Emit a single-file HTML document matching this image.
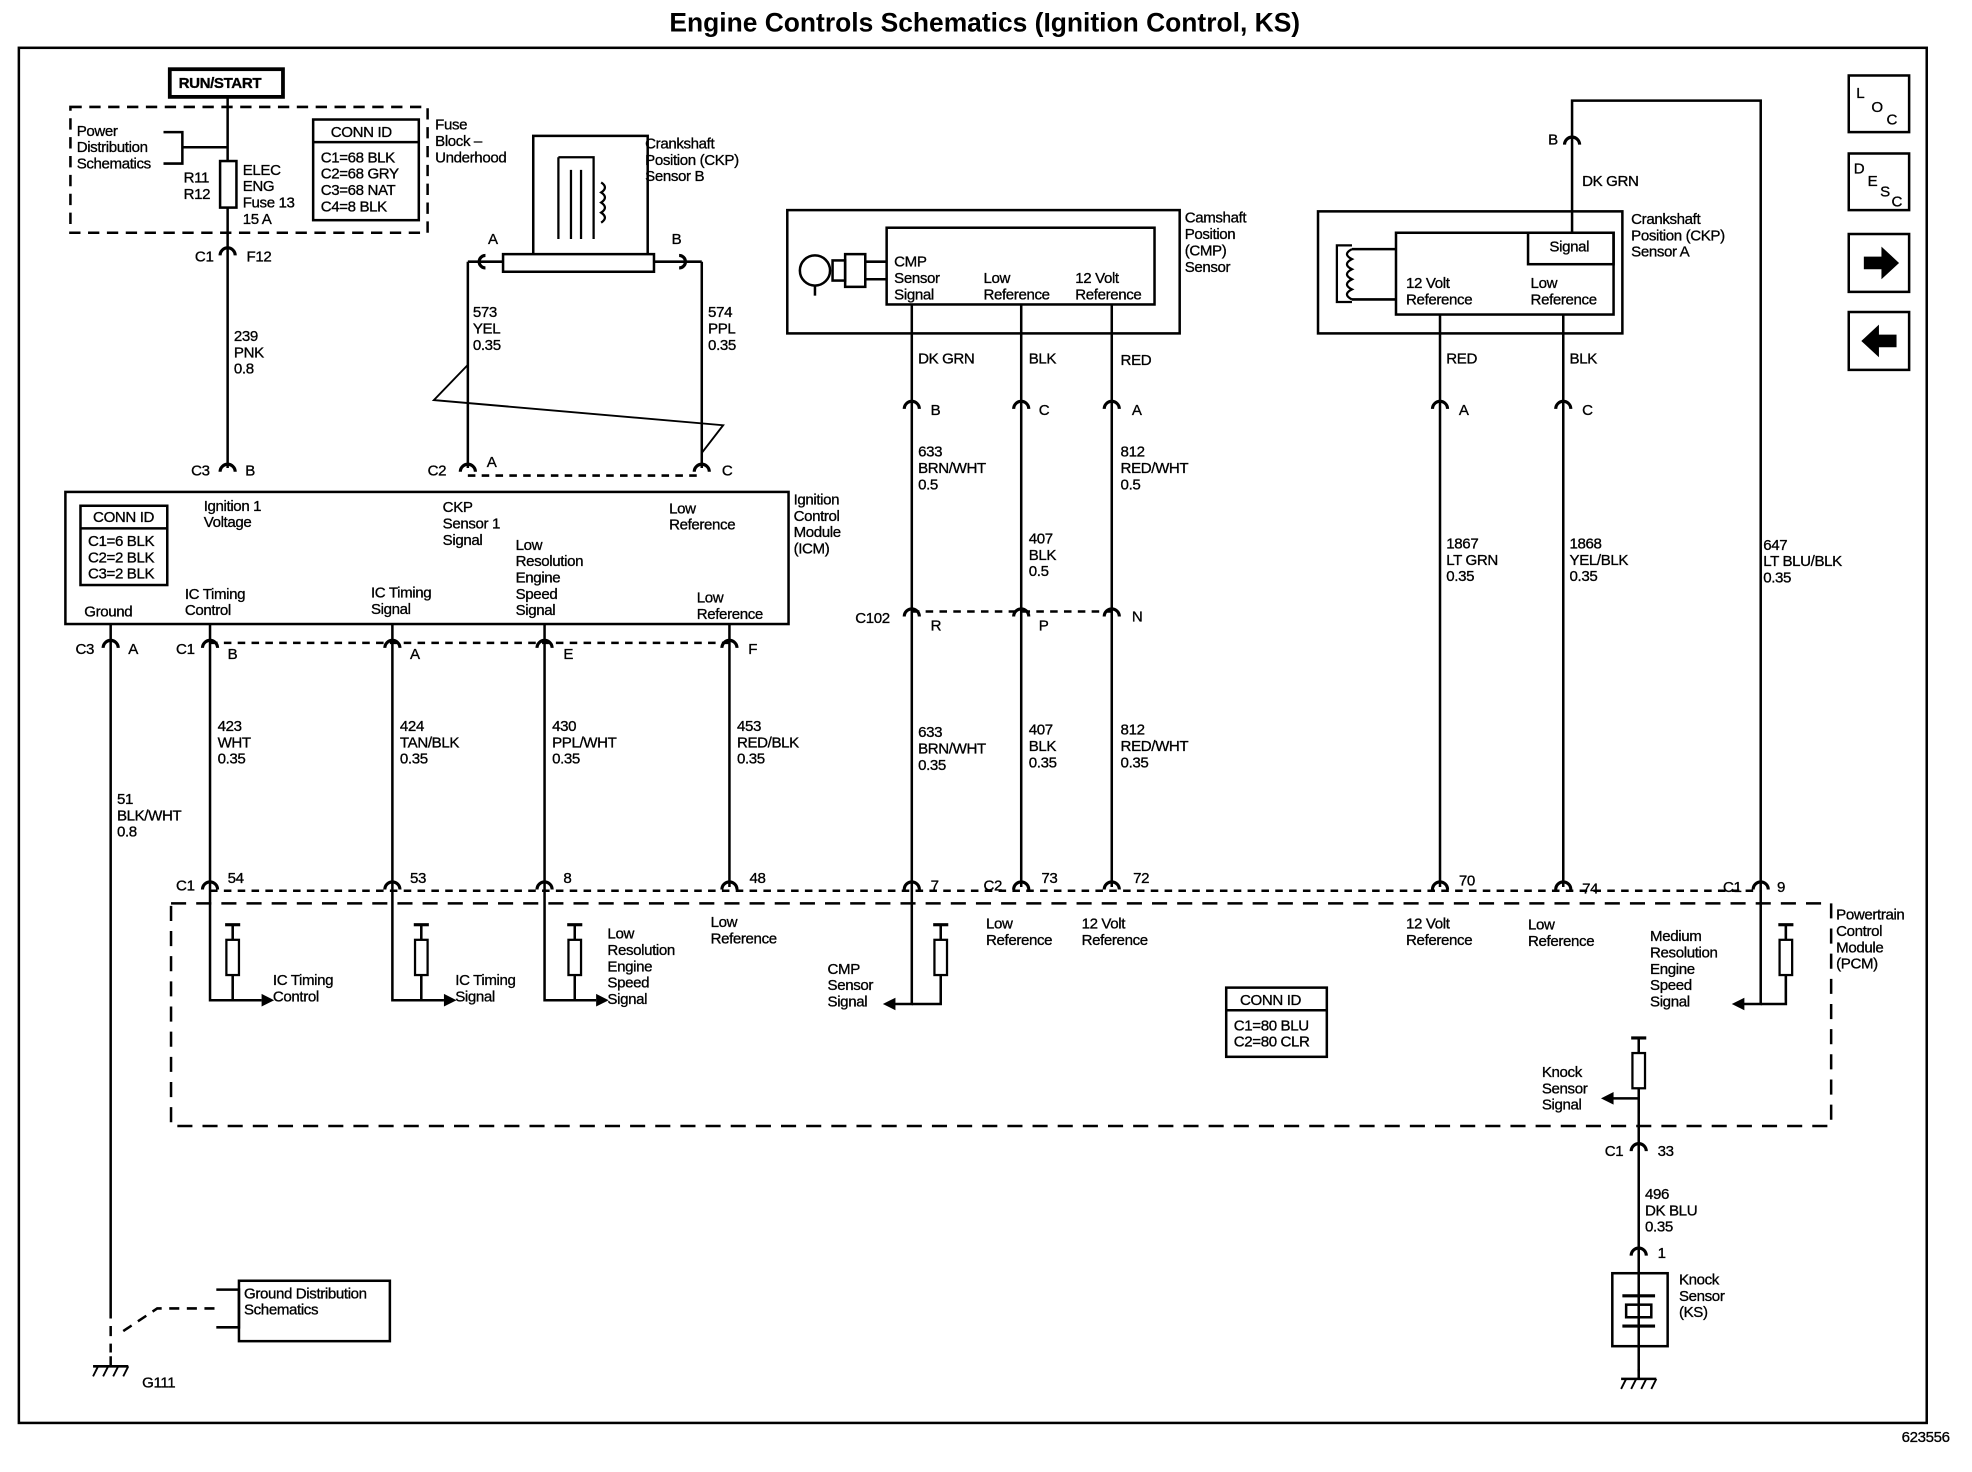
<!DOCTYPE html>
<html><head><meta charset="utf-8"><style>
html,body{margin:0;padding:0;background:#fff;}
svg{display:block}
text{font-family:"Liberation Sans",Arial,sans-serif;font-size:12px;fill:#000;letter-spacing:-0.3px;stroke:#000;stroke-width:0.25}
.t{font-weight:bold;font-size:21px;letter-spacing:0;stroke-width:0}
.b{font-weight:bold}
</style></head><body>
<svg width="1972" height="1472" viewBox="0 0 1568 1170" preserveAspectRatio="none" xmlns="http://www.w3.org/2000/svg">
<defs>
<path id="c" d="M-6,5 A6,6 0 0 1 6,5" fill="none" stroke="#000" stroke-width="2.5"/>
<g id="gnd"><line x1="0" y1="0" x2="0" y2="8" stroke="#000" stroke-width="2"/><line x1="-14" y1="8" x2="14" y2="8" stroke="#000" stroke-width="2"/><line x1="-10" y1="8" x2="-14" y2="16" stroke="#000" stroke-width="1.5"/><line x1="-2" y1="8" x2="-6" y2="16" stroke="#000" stroke-width="1.5"/><line x1="6" y1="8" x2="2" y2="16" stroke="#000" stroke-width="1.5"/><line x1="14" y1="8" x2="10" y2="16" stroke="#000" stroke-width="1.5"/></g>
<g id="res"><line x1="-6" y1="0" x2="6" y2="0" stroke="#000" stroke-width="2.5"/><line x1="0" y1="0" x2="0" y2="60" stroke="#000" stroke-width="1.8"/><rect x="-5" y="12" width="10" height="28" fill="#fff" stroke="#000" stroke-width="1.8"/></g>
</defs>
<rect width="1568" height="1170" fill="#fff"/>
<text x="783" y="25" class="t" text-anchor="middle">Engine Controls Schematics (Ignition Control, KS)</text>
<rect x="15" y="38" width="1517" height="1093" fill="none" stroke="#000" stroke-width="2"/>
<text x="1512" y="1146" font-size="10">623556</text>

<g fill="none" stroke="#000" stroke-width="2">
<rect x="1470" y="60" width="48" height="45"/><rect x="1470" y="122" width="48" height="45"/>
<rect x="1470" y="186" width="48" height="46"/><rect x="1470" y="248" width="48" height="46"/>
</g>
<text x="1476" y="78" font-size="11">L</text><text x="1488" y="89" font-size="11">O</text><text x="1500" y="99" font-size="11">C</text>
<text x="1474" y="138" font-size="11">D</text><text x="1485" y="148" font-size="11">E</text><text x="1495" y="156" font-size="11">S</text><text x="1504" y="164" font-size="11">C</text>
<path d="M1482,204 h14 v-8 l14,13 l-14,13 v-8 h-14z" fill="#000"/>
<path d="M1508,266 h-14 v-8 l-14,13 l14,13 v-8 h14z" fill="#000"/>

<g stroke="#000" stroke-width="2" fill="none">
<rect x="135" y="55" width="90" height="22" stroke-width="3"/>
<rect x="56" y="85" width="284" height="100" stroke-dasharray="9,6"/>
<line x1="181" y1="77" x2="181" y2="372"/>
<rect x="175" y="128" width="13" height="37" fill="#fff"/>
<path d="M130,105 h15 v25 h-15 M145,117 h36"/>
<rect x="249" y="95" width="84" height="80"/><line x1="249" y1="113" x2="333" y2="113"/>
<rect x="424" y="108" width="91" height="100"/>
<path d="M444,125 h28 v65 M444,125 v65 M454,135 v55 M462,135 v55" stroke-width="1.8"/>
<path d="M478,145 q6,4 0,8 q6,4 0,8 q6,4 0,8 q6,4 0,8" stroke-width="1.8"/>
<rect x="400" y="202" width="120" height="14" fill="#fff"/>
<path d="M386,203 A5,5 0 0 0 386,213" stroke-width="2.5"/><line x1="372" y1="208" x2="400" y2="208"/>
<path d="M540,203 A5,5 0 0 1 540,213" stroke-width="2.5"/><line x1="520" y1="208" x2="558" y2="208"/>
<path d="M372,208 V372 M558,208 V372"/>
<path d="M372,290 L345,318 L575,338 L558,360" stroke-width="1.5"/>
<line x1="372" y1="378" x2="558" y2="378" stroke-dasharray="6,5"/>
<rect x="52" y="391" width="575" height="105"/>
<rect x="64" y="402" width="69" height="63"/><line x1="64" y1="420" x2="133" y2="420"/>
<line x1="167" y1="511" x2="580" y2="511" stroke-dasharray="6,5"/>
<path d="M88,496 V1040 M167,496 V705 M312,496 V705 M433,496 V705 M580,496 V705"/>
<path d="M88,1040 V1075 M98,1058 L125,1040 H172" stroke-dasharray="8,6"/>
<path d="M172,1025 h18 v30 h-18"/>
<rect x="190" y="1018" width="120" height="48"/>
<rect x="626" y="167" width="312" height="98"/>
<rect x="705" y="181" width="213" height="61"/>
<circle cx="648" cy="215" r="12"/>
<rect x="662" y="207" width="10" height="16"/><rect x="672" y="202" width="16" height="26"/><path d="M688,208 h17 M688,222 h17"/>
<path d="M648,227 v8" />
<path d="M725,242 V705 M812,242 V705 M884,242 V705"/>
<line x1="725" y1="486" x2="884" y2="486" stroke-dasharray="6,5"/>
<rect x="1048" y="168" width="242" height="97"/>
<rect x="1110" y="185" width="173" height="65"/>
<rect x="1215" y="185" width="68" height="25"/>
<path d="M1075,195 h-12 v45 h12 M1075,198 q-8,4 0,8 q-8,4 0,8 q-8,4 0,8 q-8,4 0,8 q-8,4 0,8" stroke-width="1.8"/>
<path d="M1075,198 h35 M1075,238 h35"/>
<path d="M1250,185 V113 M1250,113 V80 H1400 V705"/>
<path d="M1145,250 V705 M1243,250 V705"/>
<line x1="167" y1="708" x2="1400" y2="708" stroke-dasharray="6,5"/>
<rect x="136" y="718" width="1320" height="177" stroke-dasharray="12,8"/>
<path d="M167,705 V795 H208 M312,705 V795 H353 M433,705 V795 H474 M725,705 V798 H710 M1400,705 V798 H1385"/>
<path d="M185,735 v60 M335,735 v60 M457,735 v60 M748,735 v63 H725 M1420,735 v63 H1400"/>
<rect x="975" y="785" width="80" height="55"/><line x1="975" y1="803" x2="1055" y2="803"/>
<path d="M1303,825 V1090 M1303,873 H1282"/>
<rect x="1282" y="1012" width="44" height="58"/>
<path d="M1290,1030 h26 M1290,1054 h26" stroke-width="2.5"/><rect x="1293" y="1037" width="20" height="10"/>
</g>
<g fill="#000">
<path d="M208,790 l10,5 l-10,5z"/><path d="M353,790 l10,5 l-10,5z"/><path d="M474,790 l10,5 l-10,5z"/>
<path d="M712,793 l-10,5 l10,5z"/><path d="M1387,793 l-10,5 l10,5z"/><path d="M1283,868 l-10,5 l10,5z"/>
</g>
<use href="#res" x="185" y="735"/><use href="#res" x="335" y="735"/><use href="#res" x="457" y="735"/>
<use href="#res" x="748" y="735"/><use href="#res" x="1420" y="735"/><use href="#res" x="1303" y="825"/>
<use href="#gnd" x="88" y="1078"/><use href="#gnd" x="1303" y="1088"/>

<use href="#c" x="181" y="198"/><use href="#c" x="181" y="370"/><use href="#c" x="372" y="370"/><use href="#c" x="558" y="370"/>
<use href="#c" x="88" y="510"/><use href="#c" x="167" y="510"/><use href="#c" x="312" y="510"/><use href="#c" x="433" y="510"/><use href="#c" x="580" y="510"/>
<use href="#c" x="725" y="320"/><use href="#c" x="812" y="320"/><use href="#c" x="884" y="320"/>
<use href="#c" x="725" y="485"/><use href="#c" x="812" y="485"/><use href="#c" x="884" y="485"/>
<use href="#c" x="1145" y="320"/><use href="#c" x="1243" y="320"/><use href="#c" x="1250" y="110"/>
<use href="#c" x="167" y="702"/><use href="#c" x="312" y="702"/><use href="#c" x="433" y="702"/><use href="#c" x="580" y="702"/><use href="#c" x="725" y="702"/><use href="#c" x="812" y="702"/><use href="#c" x="884" y="702"/><use href="#c" x="1145" y="702"/><use href="#c" x="1243" y="702"/><use href="#c" x="1400" y="702"/>
<use href="#c" x="1303" y="910"/><use href="#c" x="1303" y="993"/>

<text x="142" y="70" class="b">RUN/START</text>
<text x="61" y="108">Power</text><text x="61" y="121">Distribution</text><text x="61" y="134">Schematics</text>
<text x="146" y="145">R11</text><text x="146" y="158">R12</text>
<text x="193" y="139">ELEC</text><text x="193" y="152">ENG</text><text x="193" y="165">Fuse 13</text><text x="193" y="178">15 A</text>
<text x="263" y="109">CONN ID</text><text x="255" y="129">C1=68 BLK</text><text x="255" y="142">C2=68 GRY</text><text x="255" y="155">C3=68 NAT</text><text x="255" y="168">C4=8 BLK</text>
<text x="346" y="103">Fuse</text><text x="346" y="116">Block –</text><text x="346" y="129">Underhood</text>
<text x="155" y="208">C1</text><text x="196" y="208">F12</text>
<text x="186" y="271">239</text><text x="186" y="284">PNK</text><text x="186" y="297">0.8</text>
<text x="152" y="378">C3</text><text x="195" y="378">B</text>
<text x="513" y="118">Crankshaft</text><text x="513" y="131">Position (CKP)</text><text x="513" y="144">Sensor B</text>
<text x="388" y="194">A</text><text x="534" y="194">B</text>
<text x="376" y="252">573</text><text x="376" y="265">YEL</text><text x="376" y="278">0.35</text>
<text x="563" y="252">574</text><text x="563" y="265">PPL</text><text x="563" y="278">0.35</text>
<text x="340" y="378">C2</text><text x="387" y="371">A</text><text x="574" y="378">C</text>
<text x="74" y="415">CONN ID</text><text x="70" y="434">C1=6 BLK</text><text x="70" y="447">C2=2 BLK</text><text x="70" y="460">C3=2 BLK</text>
<text x="162" y="406">Ignition 1</text><text x="162" y="419">Voltage</text>
<text x="352" y="407">CKP</text><text x="352" y="420">Sensor 1</text><text x="352" y="433">Signal</text>
<text x="410" y="437">Low</text><text x="410" y="450">Resolution</text><text x="410" y="463">Engine</text><text x="410" y="476">Speed</text><text x="410" y="489">Signal</text>
<text x="532" y="408">Low</text><text x="532" y="421">Reference</text>
<text x="147" y="476">IC Timing</text><text x="147" y="489">Control</text>
<text x="295" y="475">IC Timing</text><text x="295" y="488">Signal</text>
<text x="554" y="479">Low</text><text x="554" y="492">Reference</text>
<text x="67" y="490">Ground</text>
<text x="631" y="401">Ignition</text><text x="631" y="414">Control</text><text x="631" y="427">Module</text><text x="631" y="440">(ICM)</text>
<text x="60" y="520">C3</text><text x="102" y="520">A</text><text x="140" y="520">C1</text><text x="181" y="524">B</text><text x="326" y="524">A</text><text x="448" y="524">E</text><text x="595" y="520">F</text>
<text x="173" y="581">423</text><text x="173" y="594">WHT</text><text x="173" y="607">0.35</text>
<text x="318" y="581">424</text><text x="318" y="594">TAN/BLK</text><text x="318" y="607">0.35</text>
<text x="439" y="581">430</text><text x="439" y="594">PPL/WHT</text><text x="439" y="607">0.35</text>
<text x="586" y="581">453</text><text x="586" y="594">RED/BLK</text><text x="586" y="607">0.35</text>
<text x="93" y="639">51</text><text x="93" y="652">BLK/WHT</text><text x="93" y="665">0.8</text>
<text x="194" y="1032">Ground Distribution</text><text x="194" y="1045">Schematics</text>
<text x="113" y="1103">G111</text>
<text x="711" y="212">CMP</text><text x="711" y="225">Sensor</text><text x="711" y="238">Signal</text>
<text x="782" y="225">Low</text><text x="782" y="238">Reference</text>
<text x="855" y="225">12 Volt</text><text x="855" y="238">Reference</text>
<text x="942" y="177">Camshaft</text><text x="942" y="190">Position</text><text x="942" y="203">(CMP)</text><text x="942" y="216">Sensor</text>
<text x="730" y="289">DK GRN</text><text x="818" y="289">BLK</text><text x="891" y="290">RED</text>
<text x="740" y="330">B</text><text x="826" y="330">C</text><text x="900" y="330">A</text>
<text x="730" y="363">633</text><text x="730" y="376">BRN/WHT</text><text x="730" y="389">0.5</text>
<text x="818" y="432">407</text><text x="818" y="445">BLK</text><text x="818" y="458">0.5</text>
<text x="891" y="363">812</text><text x="891" y="376">RED/WHT</text><text x="891" y="389">0.5</text>
<text x="680" y="495">C102</text><text x="740" y="501">R</text><text x="826" y="501">P</text><text x="900" y="494">N</text>
<text x="730" y="586">633</text><text x="730" y="599">BRN/WHT</text><text x="730" y="612">0.35</text>
<text x="818" y="584">407</text><text x="818" y="597">BLK</text><text x="818" y="610">0.35</text>
<text x="891" y="584">812</text><text x="891" y="597">RED/WHT</text><text x="891" y="610">0.35</text>
<text x="1232" y="200">Signal</text>
<text x="1118" y="229">12 Volt</text><text x="1118" y="242">Reference</text>
<text x="1217" y="229">Low</text><text x="1217" y="242">Reference</text>
<text x="1297" y="178">Crankshaft</text><text x="1297" y="191">Position (CKP)</text><text x="1297" y="204">Sensor A</text>
<text x="1231" y="115">B</text><text x="1258" y="148">DK GRN</text>
<text x="1150" y="289">RED</text><text x="1248" y="289">BLK</text><text x="1160" y="330">A</text><text x="1258" y="330">C</text>
<text x="1150" y="436">1867</text><text x="1150" y="449">LT GRN</text><text x="1150" y="462">0.35</text>
<text x="1248" y="436">1868</text><text x="1248" y="449">YEL/BLK</text><text x="1248" y="462">0.35</text>
<text x="1402" y="437">647</text><text x="1402" y="450">LT BLU/BLK</text><text x="1402" y="463">0.35</text>
<text x="140" y="708">C1</text><text x="181" y="702">54</text><text x="326" y="702">53</text><text x="448" y="702">8</text><text x="596" y="702">48</text><text x="740" y="708">7</text>
<text x="782" y="708">C2</text><text x="828" y="702">73</text><text x="901" y="702">72</text><text x="1160" y="704">70</text><text x="1258" y="710">74</text><text x="1370" y="709">C1</text><text x="1413" y="709">9</text>
<text x="1460" y="731">Powertrain</text><text x="1460" y="744">Control</text><text x="1460" y="757">Module</text><text x="1460" y="770">(PCM)</text>
<text x="217" y="783">IC Timing</text><text x="217" y="796">Control</text>
<text x="362" y="783">IC Timing</text><text x="362" y="796">Signal</text>
<text x="483" y="746">Low</text><text x="483" y="759">Resolution</text><text x="483" y="772">Engine</text><text x="483" y="785">Speed</text><text x="483" y="798">Signal</text>
<text x="565" y="737">Low</text><text x="565" y="750">Reference</text>
<text x="658" y="774">CMP</text><text x="658" y="787">Sensor</text><text x="658" y="800">Signal</text>
<text x="784" y="738">Low</text><text x="784" y="751">Reference</text>
<text x="860" y="738">12 Volt</text><text x="860" y="751">Reference</text>
<text x="1118" y="738">12 Volt</text><text x="1118" y="751">Reference</text>
<text x="1215" y="739">Low</text><text x="1215" y="752">Reference</text>
<text x="1312" y="748">Medium</text><text x="1312" y="761">Resolution</text><text x="1312" y="774">Engine</text><text x="1312" y="787">Speed</text><text x="1312" y="800">Signal</text>
<text x="986" y="799">CONN ID</text><text x="981" y="819">C1=80 BLU</text><text x="981" y="832">C2=80 CLR</text>
<text x="1226" y="856">Knock</text><text x="1226" y="869">Sensor</text><text x="1226" y="882">Signal</text>
<text x="1276" y="919">C1</text><text x="1318" y="919">33</text>
<text x="1308" y="953">496</text><text x="1308" y="966">DK BLU</text><text x="1308" y="979">0.35</text>
<text x="1318" y="1000">1</text>
<text x="1335" y="1021">Knock</text><text x="1335" y="1034">Sensor</text><text x="1335" y="1047">(KS)</text>
</svg>
</body></html>
